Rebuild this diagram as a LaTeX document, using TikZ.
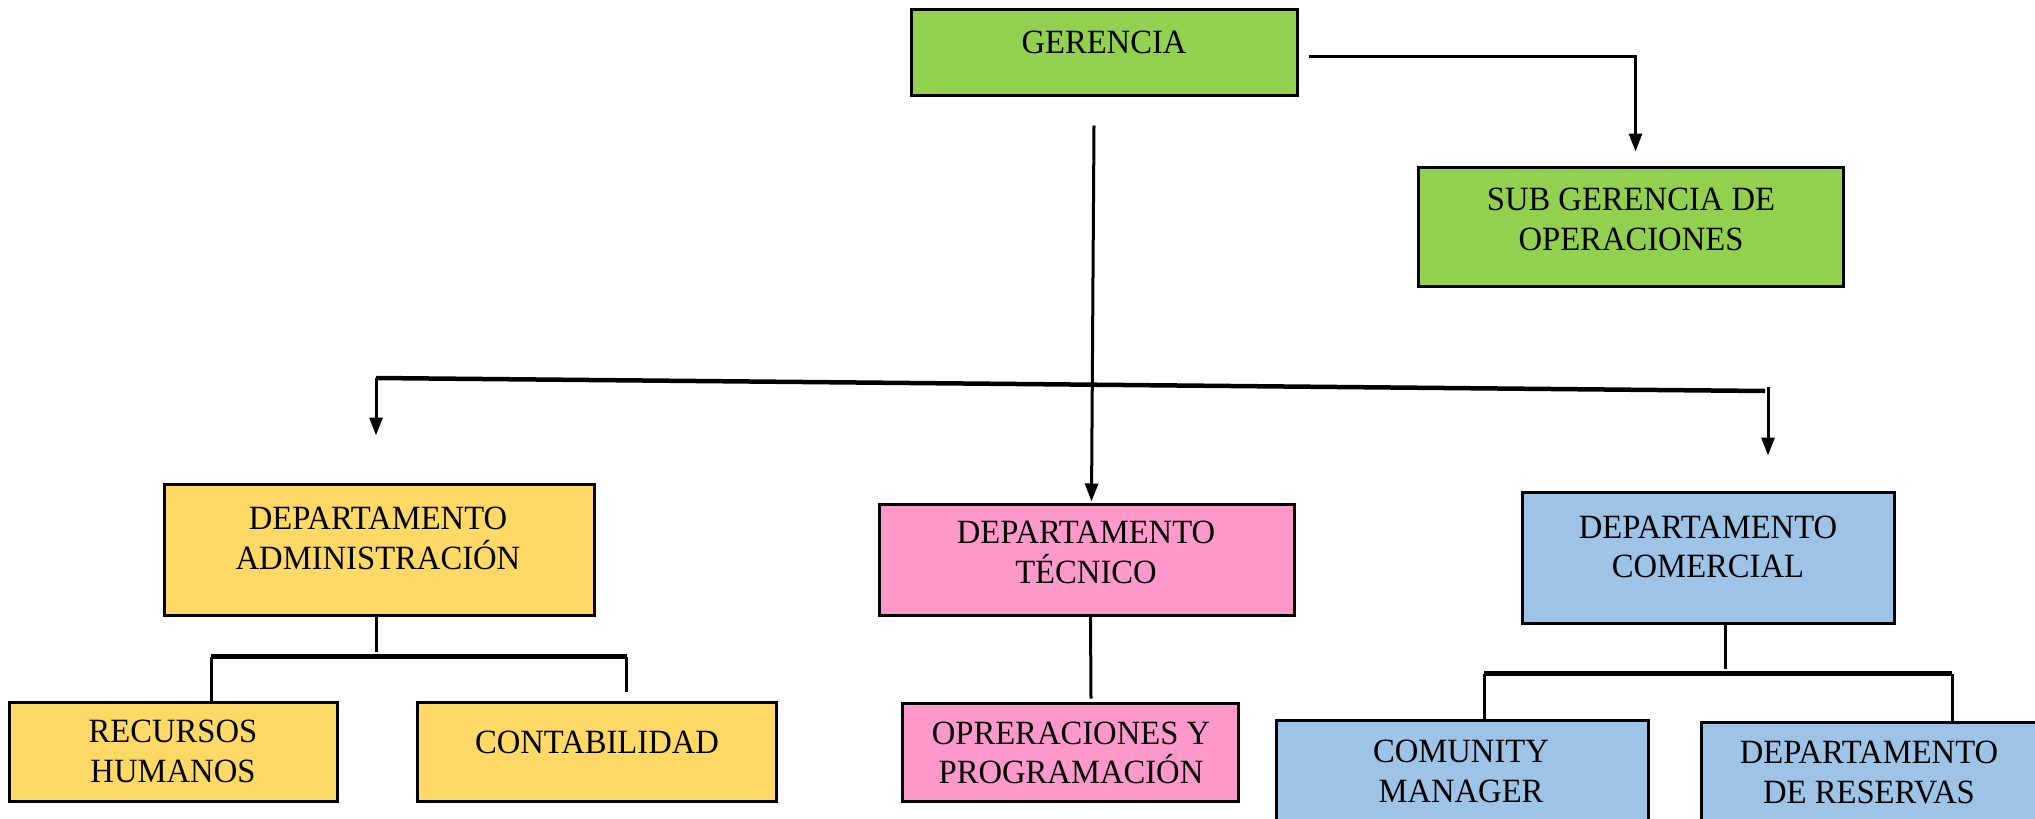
\documentclass[tikz,border=0pt]{standalone}
\usepackage{fontspec}
\setmainfont{Liberation Serif}[FakeStretch=0.96]
\usetikzlibrary{arrows.meta, positioning}
\definecolor{verde}{RGB}{146,208,80}
\definecolor{amarillo}{RGB}{255,217,102}
\definecolor{rosa}{RGB}{255,153,204}
\definecolor{azul}{RGB}{157,195,230}

\begin{document}
\begin{tikzpicture}[x=1pt, y=-1pt,
	caja/.style={draw, line width=3pt, inner sep=0pt},
	texto/.style={align=center, inner sep=0pt, font=\fontsize{34}{39.5}\selectfont},
	linea/.style={line width=3pt},
	barra/.style={line width=4.5pt},
	flecha/.style={line width=3pt, -{Triangle[length=18pt,width=13pt]}}]
		\useasboundingbox (0,0) rectangle (2035,819);
		\draw (1104,52) node[caja, fill=verde, minimum width=386pt, minimum height=86pt] (g0) {}
		(1630.5,226.5) node[caja, fill=verde, minimum width=425pt, minimum height=119pt] (g1) {}
		(379,549.5) node[caja, fill=amarillo, minimum width=430pt, minimum height=131pt] (d1) {}
		(1086.5,559.5) node[caja, fill=rosa, minimum width=415pt, minimum height=111pt] (d2) {}
		(1708,557.5) node[caja, fill=azul, minimum width=372pt, minimum height=131pt] (d3) {}
		(173,751.5) node[caja, fill=amarillo, minimum width=328pt, minimum height=99pt] (s1) {}
		(596.5,751.5) node[caja, fill=amarillo, minimum width=359pt, minimum height=99pt] (s2) {}
		(1070,752) node[caja, fill=rosa, minimum width=336pt, minimum height=98pt] (s3) {}
		(1462,775) node[caja, fill=azul, minimum width=372pt, minimum height=110pt] (s4) {}
		(1873,776) node[caja, fill=azul, minimum width=344pt, minimum height=108pt] (s5) {};

		% textos
		\path (1104,42) node[texto] (t0) {GERENCIA}
		(1631,219.5) node[texto] (t1) {SUB GERENCIA DE\\OPERACIONES}
		(378,538.5) node[texto] (t2) {DEPARTAMENTO\\ADMINISTRACIÓN}
		(1086,552.5) node[texto] (t3) {DEPARTAMENTO\\TÉCNICO}
		(1708,547) node[texto] (t4) {DEPARTAMENTO\\COMERCIAL}
		(173,751.5) node[texto] (t5) {RECURSOS\\HUMANOS}
		(597,742) node[texto] (t6) {CONTABILIDAD}
		(1071,753) node[texto] (t7) {OPRERACIONES Y\\PROGRAMACIÓN}
		(1461,771.5) node[texto] (t8) {COMUNITY\\MANAGER}
		(1869,772.5) node[texto] (t9) {DEPARTAMENTO\\DE RESERVAS};

		\draw[flecha] ([xshift=10pt,yshift=-4pt]g0.east) -| ([xshift=5pt,yshift=14pt]g1.north);
		\draw[flecha] ([xshift=-10pt,yshift=-29pt]g0.south) -- ([xshift=5pt,yshift=1pt]d2.north);

		\coordinate (b1) at (376,378);
		\coordinate (b2) at (1765,391);
		\draw[barra] (b1) -- (b2);
		\draw[flecha] (b1) -- ([xshift=-3pt,yshift=47pt]d1.north);
		\draw[flecha] ([xshift=3pt,yshift=4pt]b2) -- ([xshift=60pt,yshift=35pt]d3.north);

		\draw[linea] ([xshift=-3pt]d1.south) -- ++(0,35);
		\draw[linea] ([xshift=38pt]s1.north) -- ++(0,-44) coordinate (a1);
		\draw[linea] ([xshift=30pt,yshift=9pt]s2.north) -- ++(0,-35) coordinate (a2);
		\draw[barra] (a1) -- (a2);

		\draw[linea] ([xshift=4pt]d2.south) -- ([xshift=21pt,yshift=3pt]s3.north);

		\draw[linea] ([xshift=17pt]d3.south) -- ++(0,44);
		\draw[linea] ([xshift=22pt]s4.north) -- ++(0,-45) coordinate (c1);
		\draw[linea] ([xshift=79pt]s5.north) -- ++(0,-47) coordinate (c2);
		\draw[barra] (c1) -- (c2);
	\end{tikzpicture}
\end{document}
